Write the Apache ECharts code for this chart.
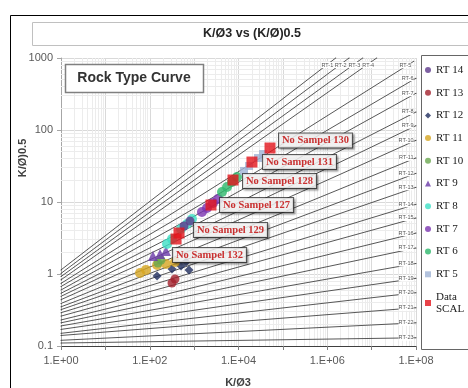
<!DOCTYPE html>
<html><head><meta charset="utf-8">
<script src="https://cdn.jsdelivr.net/npm/echarts@6/dist/echarts.min.js"></script>
<style>html,body{margin:0;padding:0;background:#fff}#c{width:468px;height:388px}</style>
</head><body><div id="c"></div>
<script>
// ---- Rock type reference lines (start at K/Ø3 = 1) ----
const rtNames = ['RT-1','RT-2','RT-3','RT-4','RT-5','RT-6','RT-7','RT-8','RT-9','RT-10','RT-11','RT-12','RT-13','RT-14','RT-15','RT-16','RT-17','RT-18','RT-19','RT-20','RT-21','RT-22','RT-23'];
const rtStartX = 1;
const rtStartY = [1.14,1.02,0.92,0.83,0.74,0.67,0.60,0.54,0.49,0.44,0.39,0.35,0.32,0.29,0.26,0.23,0.21,0.19,0.17,0.15,0.14,0.12,0.11];
const rtEndX = [1.55e6,3.1e6,6.3e6,1.3e7,8.9e7,1e8,1e8,1e8,1e8,1e8,1e8,1e8,1e8,1e8,1e8,1e8,1e8,1e8,1e8,1e8,1e8,1e8,1e8];
const rtEndY = [1000,1000,1000,1000,900,525,324,178,115,72,41,25,16,9.3,6.0,3.7,2.3,1.4,0.87,0.55,0.34,0.21,0.13];
const rtLabelDy = [7,7,7,7,4,0,0,0,0,0,0,0,0,0,0,0,0,0,0,0,0,0,0];

// ---- Sample points [K/Ø3, (K/Ø)0.5] ----
const rt5  = [[13300,27.0],[17300,31.6],[27500,40.8],[35700,46.4]];
const rt6  = [[4250,13.8],[5510,16.2],[7140,19.0],[9250,22.2]];
const rt7  = [[1500,7.26],[1950,8.26],[2660,9.68],[3450,11.0]];
const rt8  = [[245,2.61],[317,3.06],[506,4.22],[691,4.95],[896,5.81]];
const rt9  = [[118,1.78],[170,1.90],[232,2.08]];
const rt10 = [[153,1.42],[179,1.56]];
const rt11 = [[60.3,1.03],[82.3,1.14],[146,1.33],[232,1.38],[371,1.47]];
const rt12 = [[146,0.938],[317,1.17],[506,1.29],[767,1.14],[656,1.47]];
const rt13 = [[317,0.75],[371,0.853]];
const rt14 = [[591,4.64],[807,5.44]];
const scalNames = ['No Sampel 130','No Sampel 131','No Sampel 128','No Sampel 127','No Sampel 129','No Sampel 132'];
const scalX = [51300,20100,7520,2400,456,391];
const scalY = [56.2,35.9,20.2,9.08,3.71,3.06];
const scalLabelOffsets = [[-1.5,-7.5],[0.5,0],[-0.5,1],[-1.5,0],[4.5,-3],[-13.5,16]];

const legendOrder = ['RT 14','RT 13','RT 12','RT 11','RT 10','RT 9','RT 8','RT 7','RT 6','RT 5','Data SCAL'];

// decorative minor grid values
const minorX = [], minorY = [];
for (let e = 0; e < 8; e++) for (let j = 2; j <= 9; j++) minorX.push(j * Math.pow(10, e));
for (let e = -1; e < 3; e++) for (let j = 2; j <= 9; j++) minorY.push(+(j * Math.pow(10, e)).toPrecision(3));

const chart = echarts.init(document.getElementById('c'));

const series = [];
series.push({
  type:'line', name:'grid', data:[], silent:true, z:1,
  markLine:{ silent:true, symbol:'none', animation:false, z:1,
    label:{show:false},
    lineStyle:{color:'#ececec', width:1, type:'solid'},
    data: minorX.map(v=>({xAxis:v})).concat(minorY.map(v=>({yAxis:v})))
  }
});
rtNames.forEach((n,i)=>{
  series.push({
    type:'line', name:n, silent:true, z:2,
    symbol:'circle', symbolSize:1, showSymbol:true,
    itemStyle:{color:'#444'},
    lineStyle:{color:'#444', width:0.9},
    label:{show:false},
    data:[[rtStartX, rtStartY[i]], {value:[rtEndX[i], rtEndY[i]], label:{
      show:true, position:'left', distance:2, offset:[0, rtLabelDy[i]], formatter:n,
      fontSize:5.5, color:'#555', fontFamily:'Liberation Sans', backgroundColor:'#fff'
    }}]
  });
});
function sc(name, data, symbol, size, color){
  return {type:'scatter', name, data, symbol, symbolSize:size, z:3, itemStyle:{color}};
}
series.push(sc('RT 13', rt13, 'circle', 9, '#a3202c'));
series.push(sc('RT 12', rt12, 'diamond', 9, '#1f2d5e'));
series.push(sc('RT 11', rt11, 'circle', 10, '#d6a521'));
series.push(sc('RT 10', rt10, 'circle', 9, '#6aa84f'));
series.push(sc('RT 9', rt9, 'triangle', 10, '#6a3aa8'));
series.push(sc('RT 8', rt8, 'circle', 10, '#3de0c6'));
series.push(sc('RT 14', rt14, 'circle', 9, '#5e3a8c'));
series.push(sc('RT 7', rt7, 'circle', 10, '#7a35b0'));
series.push(sc('RT 6', rt6, 'circle', 10, '#2db86c'));
series.push(sc('RT 5', rt5, 'rect', 8, '#9fb3d4'));
series.push({
  type:'scatter', name:'Data SCAL', symbol:'rect', symbolSize:11, z:5,
  itemStyle:{color:'#e3141b'},
  data: scalX.map((x,i)=>({name:scalNames[i], value:[x, scalY[i]], label:{offset:scalLabelOffsets[i]}})),
  label:{show:true, position:'right', distance:5, formatter:'{b}',
    color:'#c00000', fontWeight:'bold', fontFamily:'Liberation Serif', fontSize:10.5,
    backgroundColor:'#fff', borderColor:'#333', borderWidth:1, padding:[2,3,1,3],
    shadowColor:'rgba(0,0,0,0.35)', shadowBlur:2, shadowOffsetX:1.5, shadowOffsetY:1.5}
});

chart.setOption({
  animation:false,
  backgroundColor:'#fff',
  grid:{left:61, right:52, top:58, bottom:42, containLabel:false},
  xAxis:{type:'log', logBase:10, min:1, max:1e8,
    axisLine:{show:true, lineStyle:{color:'#404040', width:1}},
    axisTick:{show:true, length:4, lineStyle:{color:'#808080'}},
    axisLabel:{fontSize:11, color:'#595959', fontFamily:'Liberation Sans', margin:9,
      formatter:v=>{const e=Math.round(Math.log10(v)); return e%2===0 ? '1.E+'+(e<10?'0':'')+e : '';}},
    splitLine:{show:true, lineStyle:{color:'#d9d9d9', width:1}}
  },
  yAxis:{type:'log', logBase:10, min:0.1, max:1000,
    axisLine:{show:true, lineStyle:{color:'#a6a6a6', width:1}},
    axisTick:{show:true, length:4, lineStyle:{color:'#a6a6a6'}},
    axisLabel:{fontSize:11, color:'#595959', fontFamily:'Liberation Sans', margin:8,
      formatter:v=>{const e=Math.round(Math.log10(v)); return e<0 ? '0.1' : String(Math.pow(10,e));}},
    splitLine:{show:true, lineStyle:{color:'#d9d9d9', width:1}}
  },
  legend:{data:legendOrder, orient:'vertical', left:425, top:64, itemGap:10.7,
    itemWidth:6, itemHeight:6, padding:0,
    formatter:n=> n==='Data SCAL' ? 'Data\nSCAL' : n,
    textStyle:{fontFamily:'Liberation Serif', fontSize:11, color:'#1a1a1a', lineHeight:12}},
  graphic:[
    {type:'rect', z:0, shape:{x:10.5, y:15.5, width:470, height:380}, style:{fill:'none', stroke:'#000', lineWidth:1}},
    {type:'rect', z:0, shape:{x:32.5, y:22.5, width:450, height:23}, style:{fill:'none', stroke:'#c0c0c0', lineWidth:1}},
    {type:'text', z:10, x:252, y:34, style:{text:'K/Ø3 vs (K/Ø)0.5', font:'bold 12.5px "Liberation Sans"', fill:'#262626', align:'center', verticalAlign:'middle'}},
    {type:'rect', z:10, shape:{x:65.5, y:64.5, width:138, height:28}, style:{fill:'#fff', stroke:'#808080', lineWidth:1.5}},
    {type:'text', z:11, x:134, y:78.5, style:{text:'Rock Type Curve', font:'bold 14px "Liberation Sans"', fill:'#333', align:'center', verticalAlign:'middle'}},
    {type:'rect', z:0, shape:{x:421.5, y:55.5, width:60, height:294}, style:{fill:'none', stroke:'#666', lineWidth:1}},
    {type:'text', z:10, x:238, y:383, style:{text:'K/Ø3', font:'bold 11px "Liberation Sans"', fill:'#404040', align:'center', verticalAlign:'middle'}},
    {type:'text', z:10, x:23, y:158, rotation:Math.PI/2, style:{text:'K/Ø)0.5', font:'bold 11px "Liberation Sans"', fill:'#404040', align:'center', verticalAlign:'middle'}}
  ],
  series
});
</script></body></html>
